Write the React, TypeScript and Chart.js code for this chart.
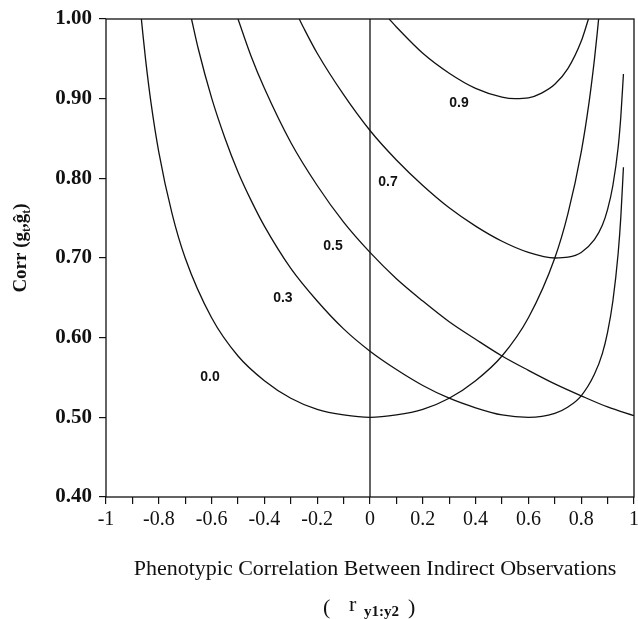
import React, { useEffect, useRef } from "react";
import { Chart, registerables } from "chart.js";

Chart.register(...registerables);

// ---- data ----
const xTickLabels = ["-1", "-0.8", "-0.6", "-0.4", "-0.2", "0", "0.2", "0.4", "0.6", "0.8", "1"];
const yTickLabels = ["0.40", "0.50", "0.60", "0.70", "0.80", "0.90", "1.00"];
const curveNames = ["0.0", "0.3", "0.5", "0.7", "0.9"];

const r00 = [-0.866, -0.86, -0.85, -0.83, -0.8, -0.75, -0.7, -0.6, -0.5, -0.4, -0.3, -0.2, -0.1, 0, 0.1, 0.2, 0.3, 0.4, 0.5, 0.6, 0.7, 0.75, 0.8, 0.83, 0.85, 0.86, 0.866];
const c00 = [1.0, 0.98, 0.949, 0.896, 0.833, 0.756, 0.7, 0.625, 0.577, 0.546, 0.524, 0.51, 0.503, 0.5, 0.503, 0.51, 0.524, 0.546, 0.577, 0.625, 0.7, 0.756, 0.833, 0.896, 0.949, 0.98, 1.0];

const r03 = [-0.676, -0.65, -0.6, -0.55, -0.5, -0.45, -0.4, -0.3, -0.2, -0.1, 0, 0.1, 0.2, 0.3, 0.4, 0.5, 0.6, 0.7, 0.75, 0.8, 0.85, 0.88, 0.9, 0.92, 0.94, 0.95, 0.96];
const c03 = [1.0, 0.962, 0.901, 0.851, 0.808, 0.772, 0.74, 0.687, 0.646, 0.611, 0.583, 0.56, 0.54, 0.524, 0.512, 0.503, 0.5, 0.505, 0.513, 0.527, 0.554, 0.58, 0.607, 0.646, 0.706, 0.751, 0.814];

const r05 = [-0.5, -0.45, -0.4, -0.3, -0.2, -0.1, 0, 0.1, 0.2, 0.3, 0.4, 0.5, 0.6, 0.7, 0.8, 0.9, 1.0];
const c05 = [1.0, 0.953, 0.913, 0.845, 0.791, 0.745, 0.707, 0.674, 0.646, 0.62, 0.598, 0.577, 0.559, 0.542, 0.527, 0.513, 0.502];

const r07 = [-0.268, -0.25, -0.2, -0.1, 0, 0.1, 0.2, 0.3, 0.4, 0.5, 0.6, 0.7, 0.75, 0.8, 0.85, 0.88, 0.9, 0.92, 0.94, 0.95, 0.96];
const c07 = [1.0, 0.988, 0.957, 0.905, 0.86, 0.823, 0.791, 0.763, 0.74, 0.721, 0.707, 0.7, 0.701, 0.707, 0.723, 0.741, 0.761, 0.791, 0.839, 0.877, 0.931];

const r09 = [0.0725, 0.1, 0.2, 0.3, 0.4, 0.5, 0.55, 0.6, 0.65, 0.7, 0.75, 0.8, 0.8275];
const c09 = [1.0, 0.99, 0.957, 0.932, 0.913, 0.902, 0.9, 0.901, 0.907, 0.918, 0.938, 0.972, 1.0];

// curve-label anchor points (data units)
const labelR = [-0.606, -0.33, -0.14, 0.068, 0.337];
const labelC = [0.55, 0.65, 0.715, 0.795, 0.894];

const xTitle = "Phenotypic Correlation Between Indirect Observations";

const curvesR = [r00, r03, r05, r07, r09];
const curvesC = [c00, c03, c05, c07, c09];

const INK = "#111";

const decor = {
  id: "decor",
  afterDatasetsDraw(chart: any) {
    const { ctx, chartArea: a, scales } = chart;
    const xs = scales.x;
    const ys = scales.y;
    ctx.save();
    ctx.strokeStyle = INK;
    ctx.lineWidth = 1.3;
    ctx.strokeRect(a.left, a.top, a.right - a.left, a.bottom - a.top);
    const x0 = xs.getPixelForValue(0);
    ctx.beginPath();
    ctx.moveTo(x0, a.top);
    ctx.lineTo(x0, a.bottom);
    ctx.stroke();

    // curve labels
    ctx.fillStyle = INK;
    ctx.font = 'bold 14px "Liberation Sans"';
    ctx.textAlign = "center";
    ctx.textBaseline = "middle";
    curveNames.forEach((n, i) => {
      ctx.fillText(n, xs.getPixelForValue(labelR[i]), ys.getPixelForValue(labelC[i]));
    });

    // x title
    ctx.font = '22px "Liberation Serif"';
    ctx.fillText(xTitle, 375, 569);

    // ( r y1:y2 )
    ctx.textAlign = "left";
    ctx.font = '22px "Liberation Serif"';
    ctx.fillText("(", 323, 608);
    ctx.fillText("r", 349, 605);
    ctx.font = 'bold 15px "Liberation Serif"';
    ctx.fillText("y1:y2", 364, 612);
    ctx.font = '22px "Liberation Serif"';
    ctx.fillText(")", 408, 608);

    // y title (rotated)
    ctx.translate(21, 248);
    ctx.rotate(-Math.PI / 2);
    const main = 'bold 19px "Liberation Serif"';
    const sub = 'bold 12px "Liberation Serif"';
    const parts = [
      { t: "Corr (", f: main, dy: 0 },
      { t: "g", f: main, dy: 0 },
      { t: "t", f: sub, dy: 6 },
      { t: ",", f: main, dy: 0 },
      { t: "\u011D", f: main, dy: 0 },
      { t: "t", f: sub, dy: 6 },
      { t: ")", f: main, dy: 0 },
    ];
    let total = 0;
    parts.forEach((p) => {
      ctx.font = p.f;
      total += ctx.measureText(p.t).width;
    });
    let cx = -total / 2;
    ctx.textAlign = "left";
    parts.forEach((p) => {
      ctx.font = p.f;
      ctx.fillText(p.t, cx, p.dy);
      cx += ctx.measureText(p.t).width;
    });
    ctx.restore();
  },
};

export default function App() {
  const ref = useRef<HTMLCanvasElement | null>(null);
  useEffect(() => {
    if (!ref.current) return;
    const datasets = curveNames.map((n, i) => ({
      label: n,
      data: curvesR[i].map((r, j) => ({ x: r, y: curvesC[i][j] })),
      showLine: true,
      borderColor: INK,
      borderWidth: 1.3,
      pointRadius: 0,
      fill: false,
      cubicInterpolationMode: "monotone" as const,
    }));
    const chart = new Chart(ref.current, {
      type: "scatter",
      data: { datasets },
      options: {
        animation: false,
        responsive: false,
        devicePixelRatio: 1,
        layout: { padding: { left: 0, right: 4, top: 19, bottom: 0 } },
        plugins: { legend: { display: false }, tooltip: { enabled: false } },
        scales: {
          x: {
            type: "linear",
            min: -1,
            max: 1,
            border: { display: false },
            grid: { display: true, drawOnChartArea: false, drawTicks: true, tickLength: 7, color: INK, lineWidth: 1.2 },
            ticks: {
              stepSize: 0.1,
              autoSkip: false,
              maxRotation: 0,
              padding: 4,
              color: INK,
              font: { family: "Liberation Serif", size: 20, weight: "normal" },
              callback: (_v: any, i: number) => (i % 2 === 0 ? xTickLabels[i / 2] : ""),
            },
            afterFit: (s: any) => {
              s.height = 122;
              s.paddingLeft = 0;
              s.paddingRight = 0;
            },
          },
          y: {
            type: "linear",
            min: 0.4,
            max: 1.0,
            border: { display: false },
            grid: { display: true, drawOnChartArea: false, drawTicks: true, tickLength: 7, color: INK, lineWidth: 1.2 },
            ticks: {
              stepSize: 0.1,
              autoSkip: false,
              padding: 7,
              color: INK,
              font: { family: "Liberation Serif", size: 21, weight: "bold" },
              callback: (_v: any, i: number) => yTickLabels[i],
            },
            afterFit: (s: any) => {
              s.width = 106;
              s.paddingTop = 0;
              s.paddingBottom = 0;
            },
          },
        },
      },
      plugins: [decor],
    });
    return () => chart.destroy();
  }, []);
  return (
    <div style={{ position: "absolute", left: 0, top: 0, width: 638, height: 619, background: "#fff" }}>
      <canvas ref={ref} width={638} height={619} />
    </div>
  );
}
